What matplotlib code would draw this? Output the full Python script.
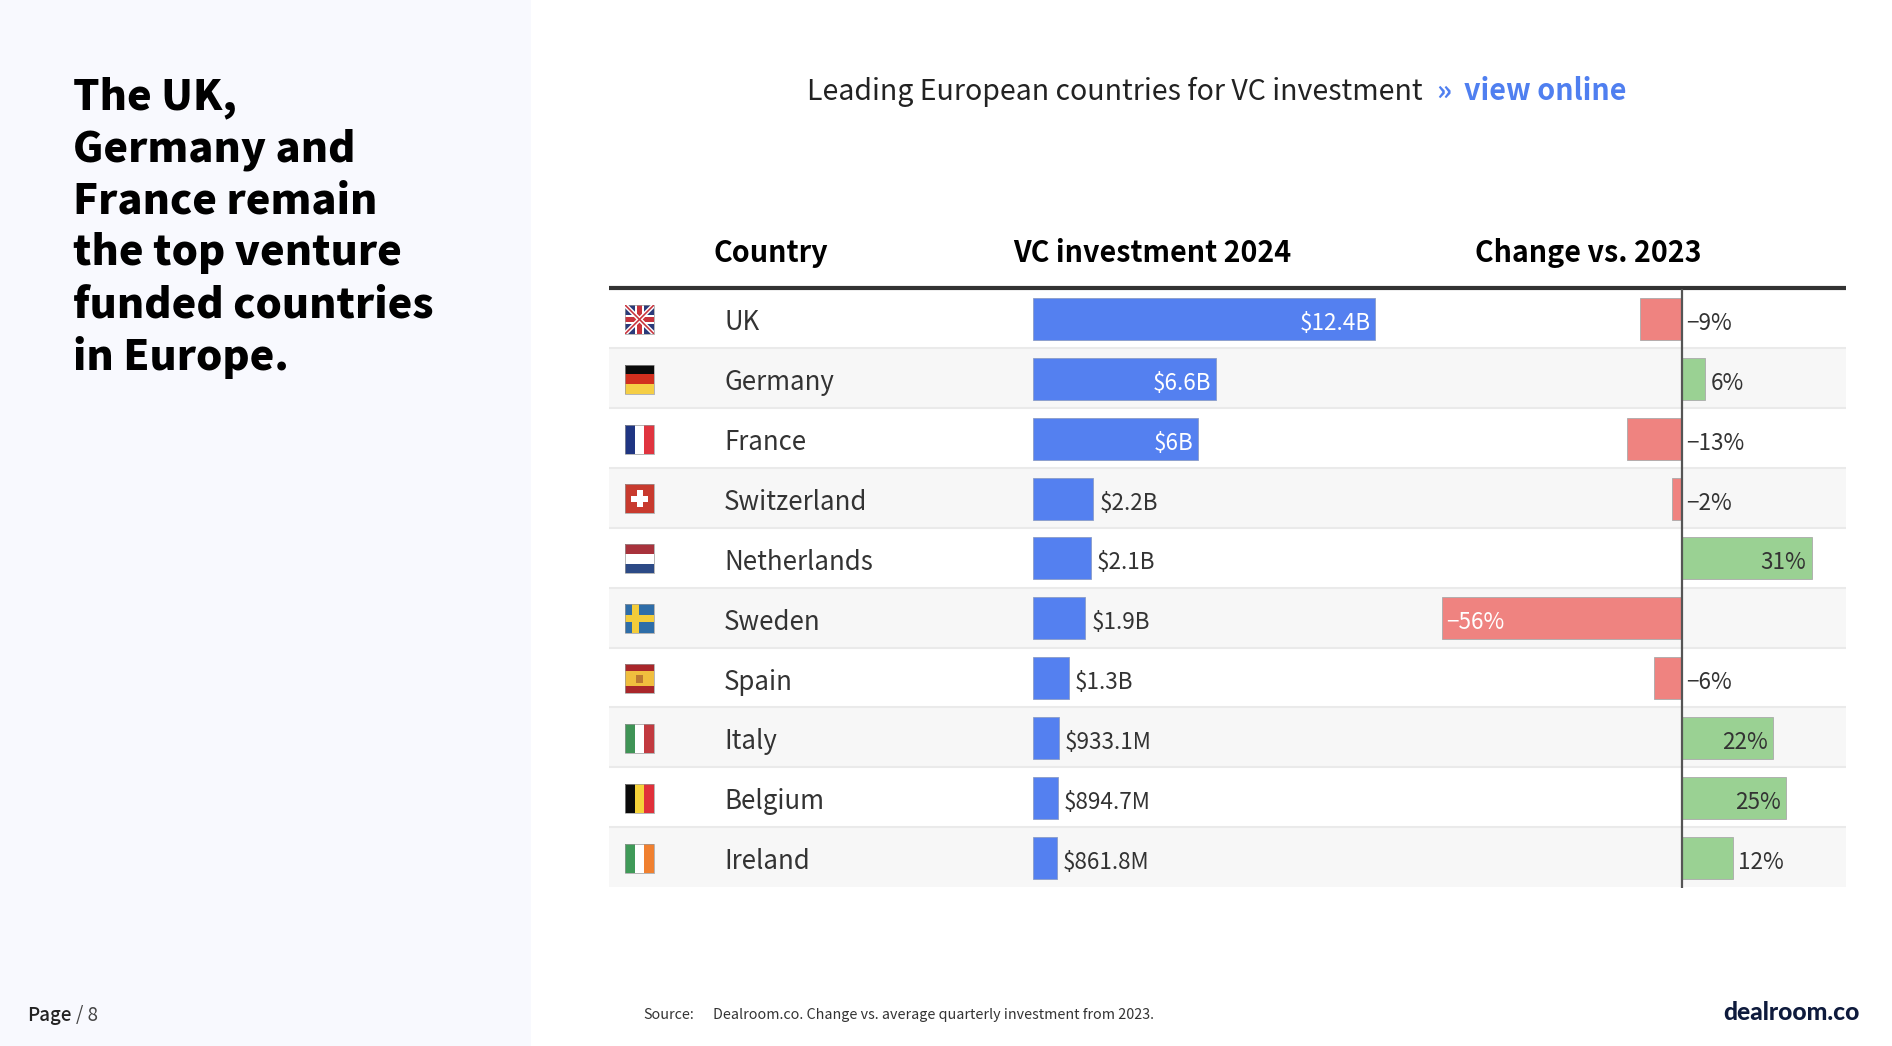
import matplotlib
matplotlib.use('Agg')
import matplotlib.pyplot as plt
from matplotlib.patches import Rectangle

plt.rcParams['font.family'] = ['Noto Sans CJK JP', 'DejaVu Sans']

W, H = 1892, 1046

# data
countries = ['UK', 'Germany', 'France', 'Switzerland', 'Netherlands',
             'Sweden', 'Spain', 'Italy', 'Belgium', 'Ireland']
invest = [12.4, 6.63, 5.97, 2.18, 2.1, 1.9, 1.3, 0.9331, 0.8947, 0.8618]
invest_labels = ['$12.4B', '$6.6B', '$6B', '$2.2B', '$2.1B', '$1.9B', '$1.3B',
                 '$933.1M', '$894.7M', '$861.8M']
change = [-9.8, 5.5, -13, -2.4, 30.6, -56.4, -6.5, 21.5, 24.5, 12]
change_labels = ['\u22129%', '6%', '\u221213%', '\u22122%', '31%', '\u221256%',
                 '\u22126%', '22%', '25%', '12%']
title_lines = ['The UK,', 'Germany and', 'France remain', 'the top venture',
               'funded countries', 'in Europe.']

BLUE = '#5480F0'
RED = '#EF8380'
GREEN = '#9AD193'
DARK = '#333333'
VALUE_SIZE = 16.2

fig = plt.figure(figsize=(W / 100, H / 100), dpi=100, facecolor='white')

# full page axes in pixels
bg = fig.add_axes([0, 0, 1, 1])
bg.set_xlim(0, W)
bg.set_ylim(H, 0)
bg.axis('off')

bg.add_patch(Rectangle((0, 0), 531, H, fc='#F8F9FE', ec='none'))
for i, line in enumerate(title_lines):
    bg.text(73, 97.5 + i * 52, line, fontsize=29.9, fontweight='black', color='black', va='center')

bg.text(27, 1015.5, 'Page', fontsize=13.5, fontweight='medium', color='#222222', va='center')
bg.text(76, 1015.5, '/ 8', fontsize=13.5, color='#444444', va='center')
bg.text(643, 1015, 'Source:', fontsize=10.3, color='#333333', va='center')
bg.text(713, 1015, 'Dealroom.co. Change vs. average quarterly investment from 2023.',
        fontsize=10.3, color='#333333', va='center')
bg.text(1860, 1013, 'dealroom.co', fontsize=17.7, fontweight='black', family='Lato',
        color='#0E1A3C', ha='right', va='center')

bg.text(807, 91.5, 'Leading European countries for VC investment', fontsize=20.5, color='#222222', va='center')
bg.text(1436, 91.5, '\u00bb', fontsize=20.5, fontweight='bold', color='#4F7FF0', va='center')
bg.text(1463.5, 91.5, 'view online', fontsize=20.7, fontweight='bold', color='#4F7FF0', va='center')

bg.text(713, 253, 'Country', fontsize=20.7, fontweight='bold', color='black', va='center')
bg.text(1013, 253, 'VC investment 2024', fontsize=20.6, fontweight='bold', color='black', va='center')
bg.text(1475, 253, 'Change vs. 2023', fontsize=20.6, fontweight='bold', color='black', va='center')

# table rows
TOP, PITCH = 288.5, 59.85
for i, name in enumerate(countries):
    y0 = TOP + i * PITCH
    if i % 2 == 1:
        bg.add_patch(Rectangle((609, y0), 1237, PITCH, fc='#F7F7F7', ec='none'))
    if i > 0:
        bg.plot([609, 1846], [y0, y0], color='#EAEAEA', lw=1.5, solid_capstyle='butt')
    bg.text(724, y0 + PITCH / 2 + 4.5, name, fontsize=18.6, color=DARK, va='center')
bg.plot([609, 1846], [288, 288], color='#333333', lw=3, solid_capstyle='butt')


def flag_stripes(x, y, s, colors, vertical=False, weights=None):
    weights = weights or [1] * len(colors)
    pos = 0
    for c, w in zip(colors, weights):
        f = w / sum(weights)
        if vertical:
            bg.add_patch(Rectangle((x + pos * s, y), f * s, s, fc=c, ec='none'))
        else:
            bg.add_patch(Rectangle((x, y + pos * s), s, f * s, fc=c, ec='none'))
        pos += f


def flag_cross(x, y, s, base, cross, cx, t):
    bg.add_patch(Rectangle((x, y), s, s, fc=base, ec='none'))
    bg.add_patch(Rectangle((x + cx * s - t / 2, y), t, s, fc=cross, ec='none'))
    bg.add_patch(Rectangle((x, y + s / 2 - t / 2), s, t, fc=cross, ec='none'))


def draw_flag(name, x, y, s):
    if name == 'UK':
        clip = Rectangle((x, y), s, s, fc='#2B3A7A', ec='none')
        bg.add_patch(clip)
        for w, c in ((4.5, 'white'), (1.6, '#C8323C')):
            for ya, yb in ((y, y + s), (y + s, y)):
                ln, = bg.plot([x, x + s], [ya, yb], color=c, lw=w * 0.72, solid_capstyle='butt')
                ln.set_clip_path(clip)
        for t, c in ((9, 'white'), (5, '#C8323C')):
            bg.add_patch(Rectangle((x + s / 2 - t / 2, y), t, s, fc=c, ec='none'))
            bg.add_patch(Rectangle((x, y + s / 2 - t / 2), s, t, fc=c, ec='none'))
    elif name == 'Germany':
        flag_stripes(x, y, s, ['#0A0A0A', '#D22F1E', '#F5CE45'])
    elif name == 'France':
        flag_stripes(x, y, s, ['#1F3582', 'white', '#E0343F'], vertical=True)
    elif name == 'Switzerland':
        bg.add_patch(Rectangle((x, y), s, s, fc='#C83A2E', ec='none'))
        bg.add_patch(Rectangle((x + s / 2 - 3, y + 6), 6, s - 12, fc='white', ec='none'))
        bg.add_patch(Rectangle((x + 6, y + s / 2 - 3), s - 12, 6, fc='white', ec='none'))
    elif name == 'Netherlands':
        flag_stripes(x, y, s, ['#A8323C', 'white', '#2C4A86'])
    elif name == 'Sweden':
        flag_cross(x, y, s, '#2E6DA8', '#F3CC3A', 0.36, 7)
    elif name == 'Spain':
        flag_stripes(x, y, s, ['#A9262A', '#F0BE3E', '#A9262A'], weights=[1, 2, 1])
        bg.add_patch(Rectangle((x + 11, y + 11), 7, 8, fc='#B0672E', ec='none', alpha=0.8))
    elif name == 'Italy':
        flag_stripes(x, y, s, ['#3F9456', 'white', '#C23A40'], vertical=True)
    elif name == 'Belgium':
        flag_stripes(x, y, s, ['#0A0A0A', '#F5D23A', '#E0303A'], vertical=True)
    elif name == 'Ireland':
        flag_stripes(x, y, s, ['#3F9A58', 'white', '#F08030'], vertical=True)
    bg.add_patch(Rectangle((x, y), s, s, fc='none', ec='#999999', lw=0.5))


for i, name in enumerate(countries):
    draw_flag(name, 625, TOP + i * PITCH + PITCH / 2 - 13.5, 29)


def px_axes(x0, x1):
    ax = fig.add_axes([x0 / W, 1 - (TOP + 0.6 + 10 * PITCH) / H, (x1 - x0) / W, 10 * PITCH / H])
    ax.patch.set_alpha(0)
    ax.axis('off')
    ax.set_ylim(9.5, -0.5)
    return ax


# investment bars
ax1 = px_axes(1033, 1420)
ax1.set_xlim(0, 387 / 27.6)
ax1.barh(range(10), invest, height=0.7, color=BLUE, edgecolor='#8A9CC8', linewidth=0.6)
for i, (v, lab) in enumerate(zip(invest, invest_labels)):
    if v > 5:
        ax1.annotate(lab, (v, i), xytext=(-3.5, -3.2), textcoords='offset points',
                     ha='right', va='center', fontsize=VALUE_SIZE, color='white')
    else:
        ax1.annotate(lab, (v, i), xytext=(4.4, -3.2), textcoords='offset points',
                     ha='left', va='center', fontsize=VALUE_SIZE, color=DARK)

# change bars
ZERO, SCALE = 1682, 4.25
ax2 = px_axes(1420, 1846)
ax2.set_xlim((1420 - ZERO) / SCALE, (1846 - ZERO) / SCALE)
ax2.barh(range(10), change, height=0.7, color=[GREEN if c > 0 else RED for c in change],
         edgecolor='#AAAAAA', linewidth=0.6)
ax2.plot([0, 0], [-0.5, 9.5], color='#555555', lw=1.6, solid_capstyle='butt')
for i, (v, lab) in enumerate(zip(change, change_labels)):
    if v < -50:
        ax2.annotate(lab, (v, i), xytext=(3, -3.2), textcoords='offset points',
                     ha='left', va='center', fontsize=VALUE_SIZE, color='white')
    elif v < 0:
        ax2.annotate(lab, (0, i), xytext=(3, -3.2), textcoords='offset points',
                     ha='left', va='center', fontsize=VALUE_SIZE, color=DARK)
    elif v > 20:
        ax2.annotate(lab, (v, i), xytext=(-4, -3.2), textcoords='offset points',
                     ha='right', va='center', fontsize=VALUE_SIZE, color=DARK)
    else:
        ax2.annotate(lab, (v, i), xytext=(3.6, -3.2), textcoords='offset points',
                     ha='left', va='center', fontsize=VALUE_SIZE, color=DARK)

fig.savefig('out.png', dpi=100)
